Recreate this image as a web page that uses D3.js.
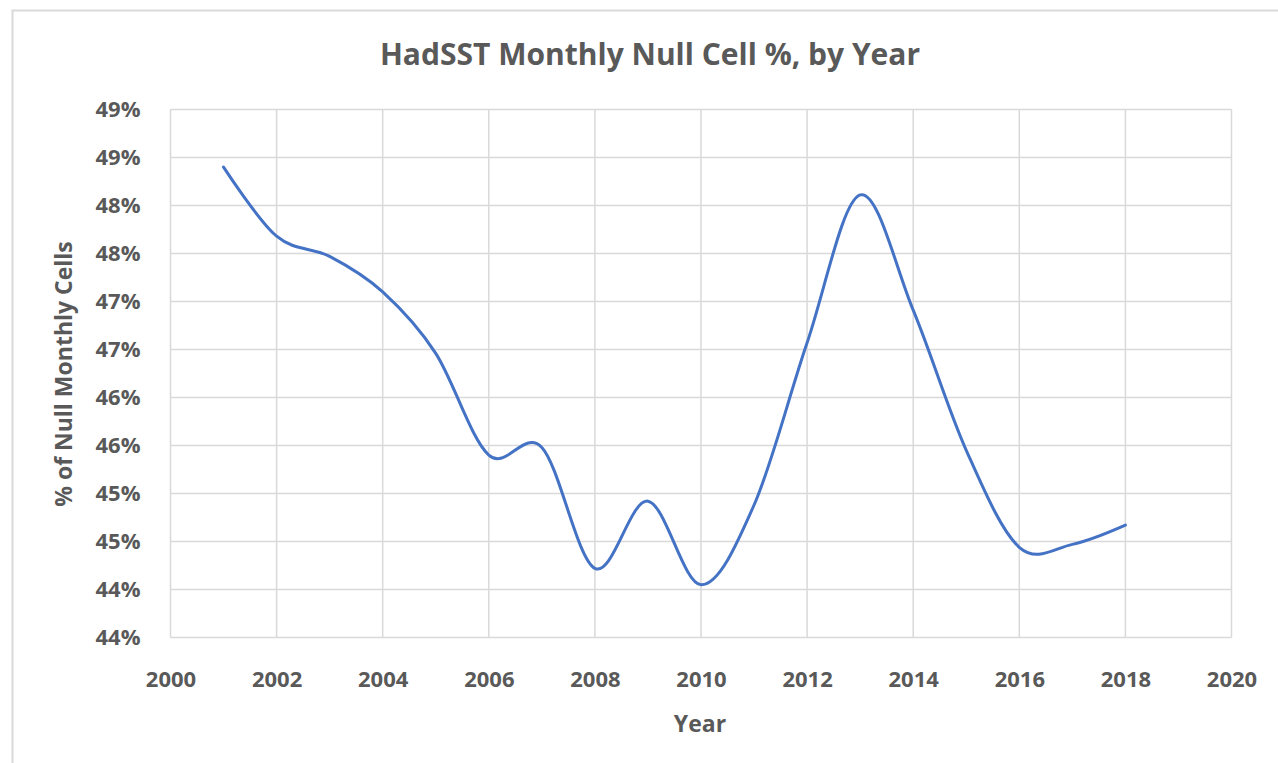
<!DOCTYPE html>
<html>
<head>
<meta charset="utf-8">
<script src="https://cdn.jsdelivr.net/npm/d3@7"></script>
<style>
    body { margin: 0; background: #fff; }
    text { font-family: "Open Sans", sans-serif; fill: #595959; }
    .axis .domain { display: none; }
    .axis line { display: none; }
</style>
</head>
<body>
<div id="chart"></div>
<script>
// chart data
var years = [2001, 2002, 2003, 2004, 2005, 2006, 2007, 2008, 2009,
             2010, 2011, 2012, 2013, 2014, 2015, 2016, 2017, 2018];
var nullPct = [48.40, 47.68, 47.47, 47.10, 46.46, 45.40, 45.48, 44.22, 44.92,
               44.05, 44.88, 46.57, 48.11, 46.91, 45.45, 44.44, 44.47, 44.67];
var yTicks = [43.5, 44, 44.5, 45, 45.5, 46, 46.5, 47, 47.5, 48, 48.5, 49];
var xTicks = [2000, 2002, 2004, 2006, 2008, 2010, 2012, 2014, 2016, 2018, 2020];

function init() {
    var w = 1278;
    var h = 763;
    var left = 170.5, right = 1231.5, top = 109.5, bottom = 637.5;

    var svg = d3.select("#chart")
        .append("svg")
        .attr("width", w)
        .attr("height", h);

    // outer frame (left and top edges only visible)
    svg.append("path")
        .attr("d", "M12.5," + h + "V10.5H" + w)
        .attr("fill", "none")
        .attr("stroke", "#d9d9d9")
        .attr("stroke-width", 2);

    var dataset = years.map(function (y, i) {
        return { year: y, value: nullPct[i] };
    });

    var xScale = d3.scaleLinear()
        .domain([2000, 2020])
        .range([left, right]);

    var yScale = d3.scaleLinear()
        .domain([43.5, 49])
        .range([bottom, top]);

    // gridlines
    svg.append("g")
        .selectAll("line")
        .data(yTicks)
        .enter()
        .append("line")
        .attr("x1", left)
        .attr("x2", right)
        .attr("y1", function (d) { return yScale(d); })
        .attr("y2", function (d) { return yScale(d); })
        .attr("stroke", "#d9d9d9")
        .attr("stroke-width", 1.5);

    svg.append("g")
        .selectAll("line")
        .data(xTicks)
        .enter()
        .append("line")
        .attr("x1", function (d) { return xScale(d); })
        .attr("x2", function (d) { return xScale(d); })
        .attr("y1", top)
        .attr("y2", bottom)
        .attr("stroke", "#d9d9d9")
        .attr("stroke-width", 1.5);

    // axes (labels only)
    var xAxis = d3.axisBottom(xScale)
        .tickValues(xTicks)
        .tickFormat(d3.format("d"))
        .tickSize(0)
        .tickPadding(34);

    var yAxis = d3.axisLeft(yScale)
        .tickValues(yTicks)
        .tickFormat(function (d) { return d3.format(".0f")(d) + "%"; })
        .tickSize(0)
        .tickPadding(30);

    svg.append("g")
        .attr("class", "axis")
        .attr("transform", "translate(0," + bottom + ")")
        .call(xAxis)
        .selectAll("text")
        .style("font-size", "22px")
        .style("font-weight", 700)
        .attr("fill", "#595959");

    svg.append("g")
        .attr("class", "axis")
        .attr("transform", "translate(" + left + ",0)")
        .call(yAxis)
        .selectAll("text")
        .style("font-size", "22px")
        .style("font-weight", 700)
        .attr("fill", "#595959");

    // smoothed line like Excel
    var line = d3.line()
        .x(function (d) { return xScale(d.year); })
        .y(function (d) { return yScale(d.value); })
        .curve(d3.curveCardinal.tension(0));

    svg.append("path")
        .datum(dataset)
        .attr("d", line)
        .attr("fill", "none")
        .attr("stroke", "#4472c4")
        .attr("stroke-width", 3)
        .attr("stroke-linecap", "round");

    // title
    svg.append("text")
        .attr("x", 650)
        .attr("y", 65)
        .attr("text-anchor", "middle")
        .style("font-size", "30px")
        .style("font-weight", 700)
        .text("HadSST Monthly Null Cell %, by Year");

    // axis titles
    svg.append("text")
        .attr("x", 700)
        .attr("y", 732)
        .attr("text-anchor", "middle")
        .style("font-size", "23px")
        .style("font-weight", 700)
        .text("Year");

    svg.append("text")
        .attr("transform", "translate(72,374) rotate(-90)")
        .attr("text-anchor", "middle")
        .style("font-size", "23px")
        .style("font-weight", 700)
        .text("% of Null Monthly Cells");
}

window.onload = init;
</script>
</body>
</html>
